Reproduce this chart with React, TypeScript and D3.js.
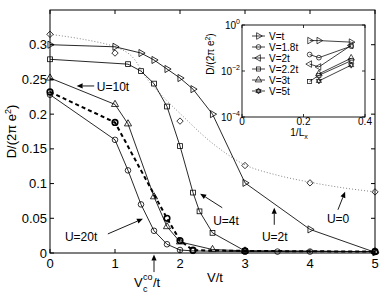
import React from "react";
import * as d3 from "d3";

const width = 382;
const height = 293;
const mLeft = 50;
const mRight = 375;
const mTop = 10;
const mBottom = 253;

// main panel data [V/t, D/(2pi e^2)]
const u0Curve = [
  [0, 0.315], [0.5, 0.308], [1, 0.297], [1.25, 0.284], [1.5, 0.25], [1.75, 0.224],
  [2, 0.201], [2.5, 0.158], [3, 0.127], [3.5, 0.112], [4, 0.102], [4.5, 0.094], [5, 0.088],
];
const u0Points = [[0, 0.315], [1, 0.288], [2, 0.19], [3, 0.126], [4, 0.101], [5, 0.088]];
const u2t = [
  [0, 0.3], [1, 0.297], [1.4, 0.288], [1.6, 0.278], [1.8, 0.265], [2, 0.252],
  [2.2, 0.236], [2.5, 0.2], [3, 0.101], [4, 0.034], [5, 0.001],
];
const u4t = [
  [0, 0.279], [1.2, 0.272], [1.4, 0.262], [1.6, 0.244], [1.8, 0.211], [2, 0.154],
  [2.2, 0.087], [2.3, 0.06], [2.5, 0.029], [3, 0.003], [5, 0.002],
];
const u10t = [
  [0, 0.252], [1, 0.214], [1.2, 0.186], [1.6, 0.081], [1.8, 0.038], [2, 0.016],
  [2.5, 0.005], [3, 0.003], [5, 0.002],
];
const u20t = [
  [0, 0.228], [1, 0.163], [1.2, 0.119], [1.4, 0.07], [1.6, 0.032], [1.8, 0.0126],
  [2, 0.0043], [2.2, 0.003], [3, 0.002], [3.5, 0.002], [4, 0.002], [5, 0.002],
];
const uDashed = [[0, 0.232], [1, 0.188], [1.8, 0.05], [2, 0.018], [2.2, 0.004], [3, 0.003], [5, 0.002]];

const xTicks = [0, 1, 2, 3, 4, 5];
const yTicks = [0, 0.05, 0.1, 0.15, 0.2, 0.25, 0.3];
const yTickLabels = ["0", "0.05", "0.1", "0.15", "0.2", "0.25", "0.3"];

// annotations: label, text pos, arrow from, arrow to (data units)
const notes = [
  { label: "U=10t", t: [0.72, 0.2335], from: [0.68, 0.2406], to: [0.41, 0.2406] },
  { label: "U=20t", t: [0.23, 0.0174], from: [0.89, 0.0275], to: [1.43, 0.0493] },
  { label: "U=4t", t: [2.51, 0.0406], from: [2.65, 0.0652], to: [2.31, 0.0855] },
  { label: "U=2t", t: [3.26, 0.0174], from: [3.45, 0.0406], to: [3.45, 0.0652] },
  { label: "U=0", t: [4.26, 0.0428], from: [4.43, 0.0623], to: [4.54, 0.0884] },
  { label: "", t: [0, 0], from: [1.6, -0.0275], to: [1.6, -0.002] },
];

// inset data [1/Lx, D]
const insetSeries = [
  { name: "V=t", shape: "right", pts: [[0.22, 0.21], [0.25, 0.21], [0.355, 0.18]] },
  { name: "V=1.8t", shape: "circle", pts: [[0.22, 0.052], [0.25, 0.038], [0.355, 0.12]] },
  { name: "V=2t", shape: "left", pts: [[0.22, 0.02], [0.25, 0.015], [0.355, 0.13]] },
  { name: "V=2.2t", shape: "square", pts: [[0.22, 0.0035], [0.25, 0.0065], [0.355, 0.028]] },
  { name: "V=3t", shape: "up", pts: [[0.25, 0.0075], [0.355, 0.036]] },
  { name: "V=5t", shape: "star", pts: [[0.25, 0.0037], [0.355, 0.018]] },
];
const insetXTicks = [0, 0.2, 0.4];
const insetYTicks = [1, 1e-2, 1e-4];
const insetYExp = ["0", "\u22122", "\u22124"];

const font = "'Liberation Sans', Arial, Helvetica, sans-serif";

function Marker({ shape, x, y, s = 1, sw = 0.8 }: any) {
  const tri = d3.symbol().type(d3.symbolTriangle).size(22 * s)() as string;
  const common = { fill: "none", stroke: "#000", strokeWidth: sw };
  if (shape === "circle") return <circle cx={x} cy={y} r={2.8 * s} {...common} />;
  if (shape === "square") return <rect x={x - 2.4 * s} y={y - 2.4 * s} width={4.8 * s} height={4.8 * s} {...common} />;
  if (shape === "diamond") {
    const r = 3.2 * s;
    return <path d={`M${x},${y - r}L${x + r},${y}L${x},${y + r}L${x - r},${y}Z`} {...common} />;
  }
  if (shape === "star") {
    const a = d3.symbol().type(d3.symbolTriangle).size(14 * s)() as string;
    return (
      <g transform={`translate(${x},${y})`}>
        <path d={a} {...common} />
        <path d={a} transform="rotate(180)" {...common} />
      </g>
    );
  }
  const rot = shape === "right" ? 90 : shape === "left" ? -90 : 0;
  return <path d={tri} transform={`translate(${x},${y}) rotate(${rot})`} {...common} />;
}

function Arrow({ x1, y1, x2, y2 }: any) {
  const ang = Math.atan2(y2 - y1, x2 - x1);
  const L = 6, W = 2.6;
  const bx = x2 - L * Math.cos(ang), by = y2 - L * Math.sin(ang);
  const px = -Math.sin(ang) * W, py = Math.cos(ang) * W;
  return (
    <g>
      <line x1={x1} y1={y1} x2={bx} y2={by} stroke="#000" strokeWidth={0.9} />
      <path d={`M${x2},${y2}L${bx + px},${by + py}L${bx - px},${by - py}Z`} fill="#000" />
    </g>
  );
}

export default function App() {
  const x = d3.scaleLinear().domain([0, 5]).range([mLeft, mRight]);
  const y = d3.scaleLinear().domain([0, 0.35]).range([mBottom, mTop]);
  const line = d3.line<number[]>().x(d => x(d[0])).y(d => y(d[1]));
  const smooth = d3.line<number[]>().x(d => x(d[0])).y(d => y(d[1])).curve(d3.curveCatmullRom);

  const ix = d3.scaleLinear().domain([0, 0.4]).range([242, 365]);
  const iy = d3.scaleLog().domain([1e-4, 1]).range([117, 25]);
  const iline = d3.line<number[]>().x(d => ix(d[0])).y(d => iy(d[1]));

  const solid = [
    { pts: u2t, shape: "right" },
    { pts: u4t, shape: "square" },
    { pts: u10t, shape: "up" },
    { pts: u20t, shape: "circle" },
  ];

  return (
    <svg width={width} height={height} style={{ position: "absolute", left: 0, top: 0 }} fontFamily={font}>
      <rect width={width} height={height} fill="#fff" />
      {/* U=0 dotted */}
      <path d={smooth(u0Curve) as string} fill="none" stroke="#777" strokeWidth={0.9} strokeDasharray="1 2" />
      {u0Points.map((d, i) => <Marker key={"d" + i} shape="diamond" x={x(d[0])} y={y(d[1])} />)}
      {solid.map((s, k) => (
        <g key={"s" + k}>
          <path d={line(s.pts) as string} fill="none" stroke="#111" strokeWidth={0.9} />
          {s.pts.map((d, i) => <Marker key={i} shape={s.shape} x={x(d[0])} y={y(d[1])} />)}
        </g>
      ))}
      <path d={line(uDashed) as string} fill="none" stroke="#000" strokeWidth={2} strokeDasharray="4 3" />
      {uDashed.map((d, i) => <Marker key={"b" + i} shape="circle" x={x(d[0])} y={y(d[1])} sw={1.6} />)}

      {/* frame and ticks */}
      <rect x={mLeft} y={mTop} width={mRight - mLeft} height={mBottom - mTop} fill="none" stroke="#000" strokeWidth={1} />
      {xTicks.map(t => (
        <g key={"xt" + t}>
          <line x1={x(t)} x2={x(t)} y1={mBottom} y2={mBottom - 4} stroke="#000" />
          <line x1={x(t)} x2={x(t)} y1={mTop} y2={mTop + 4} stroke="#000" />
          <text x={x(t)} y={mBottom + 15} fontSize={13} textAnchor="middle">{t}</text>
        </g>
      ))}
      {yTicks.map((t, i) => (
        <g key={"yt" + t}>
          <line x1={mLeft} x2={mLeft + 4} y1={y(t)} y2={y(t)} stroke="#000" />
          <line x1={mRight} x2={mRight - 4} y1={y(t)} y2={y(t)} stroke="#000" />
          <text x={mLeft - 3} y={y(t) + 4.5} fontSize={13} textAnchor="end">{yTickLabels[i]}</text>
        </g>
      ))}
      <text x={215} y={282} fontSize={13} textAnchor="middle">V/t</text>
      <text transform={`translate(16,${(mTop + mBottom) / 2}) rotate(-90)`} fontSize={13} textAnchor="middle">
        D/(2π e<tspan dy={-5} fontSize={9}>2</tspan><tspan dy={5}>)</tspan>
      </text>
      <text x={134} y={287} fontSize={13}>V</text>
      <text x={143} y={280} fontSize={9}>co</text>
      <text x={143} y={292} fontSize={9}>c</text>
      <text x={153} y={287} fontSize={13}>/t</text>

      {notes.map((n, i) => (
        <g key={"n" + i}>
          {n.label && <text x={x(n.t[0])} y={y(n.t[1])} fontSize={12}>{n.label}</text>}
          <Arrow x1={x(n.from[0])} y1={y(n.from[1])} x2={x(n.to[0])} y2={y(n.to[1])} />
        </g>
      ))}

      {/* inset */}
      <rect x={242} y={25} width={123} height={92} fill="#fff" stroke="#000" strokeWidth={0.9} />
      {insetSeries.map((s, k) => (
        <g key={"is" + k}>
          <path d={iline(s.pts) as string} fill="none" stroke="#111" strokeWidth={0.8} />
          {s.pts.map((d, i) => <Marker key={i} shape={s.shape} x={ix(d[0])} y={iy(d[1])} s={0.85} sw={0.7} />)}
          <line x1={252} x2={265} y1={36 + k * 11} y2={36 + k * 11} stroke="#111" strokeWidth={0.8} />
          <Marker shape={s.shape} x={258.5} y={36 + k * 11} s={0.85} sw={0.7} />
          <text x={269} y={36 + k * 11 + 3.5} fontSize={10}>{s.name}</text>
        </g>
      ))}
      {insetXTicks.map(t => (
        <g key={"ixt" + t}>
          <line x1={ix(t)} x2={ix(t)} y1={117} y2={114} stroke="#000" strokeWidth={0.8} />
          <line x1={ix(t)} x2={ix(t)} y1={25} y2={28} stroke="#000" strokeWidth={0.8} />
          <text x={ix(t)} y={125} fontSize={10} textAnchor="middle">{t}</text>
        </g>
      ))}
      {insetYTicks.map((t, i) => (
        <g key={"iyt" + t}>
          <line x1={242} x2={245} y1={iy(t)} y2={iy(t)} stroke="#000" strokeWidth={0.8} />
          <line x1={365} x2={362} y1={iy(t)} y2={iy(t)} stroke="#000" strokeWidth={0.8} />
          <text x={240} y={iy(t) + 3.5} fontSize={10} textAnchor="end">
            10<tspan dy={-5} fontSize={7}>{insetYExp[i]}</tspan>
          </text>
        </g>
      ))}
      <text x={299} y={136} fontSize={10} textAnchor="middle">
        1/L<tspan dy={2.5} fontSize={7}>x</tspan>
      </text>
      <text transform="translate(214,54) rotate(-90)" fontSize={10} textAnchor="middle">
        D/(2π e<tspan dy={-4} fontSize={7}>2</tspan><tspan dy={4}>)</tspan>
      </text>
    </svg>
  );
}
